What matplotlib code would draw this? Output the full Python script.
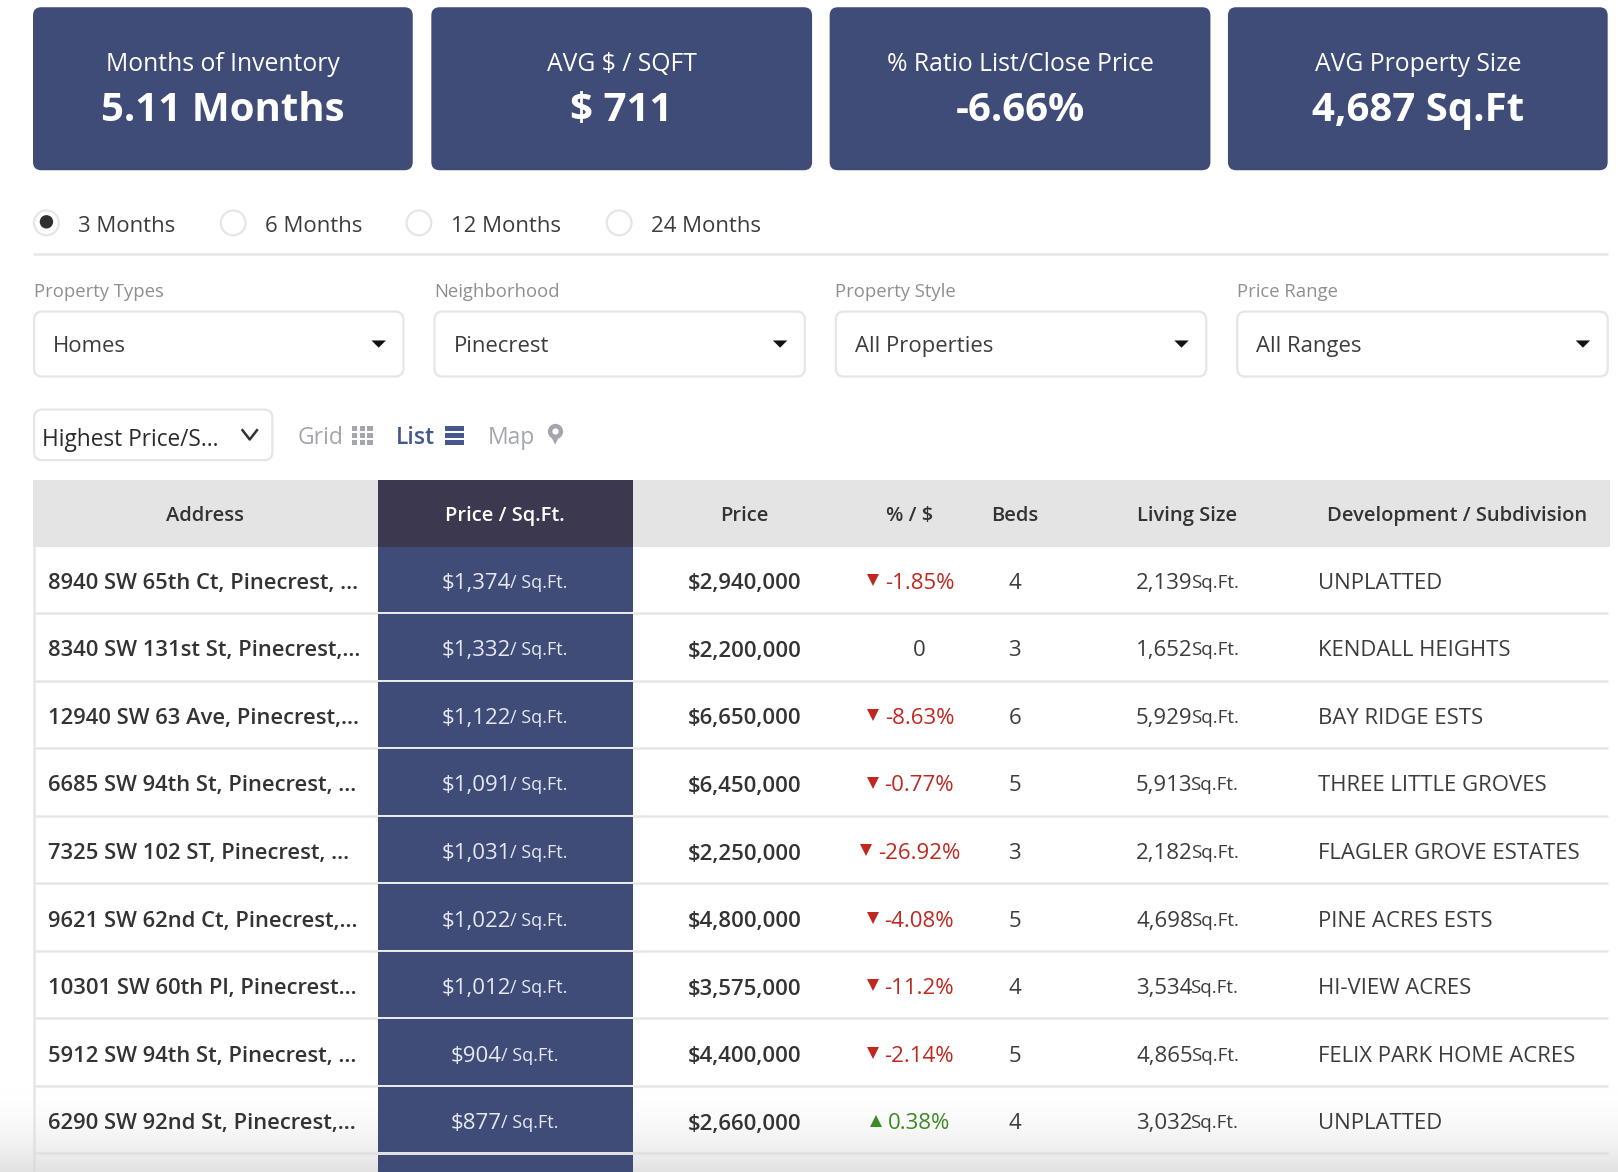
import matplotlib
matplotlib.use("Agg")
import matplotlib.pyplot as plt
from matplotlib.patches import FancyBboxPatch, Rectangle, Circle, Polygon
import numpy as np

plt.rcParams['font.family'] = ['Open Sans', 'DejaVu Sans']

NAVY = "#3f4c78"
DARK_HEAD = "#3b3850"
HEAD_BG = "#e4e4e4"
LINE = "#e6e6e6"
TEXT = "#3c3c3c"
GREY = "#8f8f8f"
RED = "#c0281f"
GREEN = "#3c8a22"
ICON = "#a3a6ad"
BLUE = "#46578f"

# summary cards
card_titles = ["Months of Inventory", "AVG $ / SQFT", "% Ratio List/Close Price", "AVG Property Size"]
card_values = ["5.11 Months", "$ 711", "-6.66%", "4,687 Sq.Ft"]

# filters
period_labels = ["3 Months", "6 Months", "12 Months", "24 Months"]
filter_labels = ["Property Types", "Neighborhood", "Property Style", "Price Range"]
filter_values = ["Homes", "Pinecrest", "All Properties", "All Ranges"]

# table
headers = ["Address", "Price / Sq.Ft.", "Price", "% / $", "Beds", "Living Size", "Development / Subdivision"]
addresses = ["8940 SW 65th Ct, Pinecrest, ...", "8340 SW 131st St, Pinecrest,...", "12940 SW 63 Ave, Pinecrest,...",
             "6685 SW 94th St, Pinecrest, ...", "7325 SW 102 ST, Pinecrest, ...", "9621 SW 62nd Ct, Pinecrest,...",
             "10301 SW 60th Pl, Pinecrest...", "5912 SW 94th St, Pinecrest, ...", "6290 SW 92nd St, Pinecrest,..."]
price_sqft = [1374, 1332, 1122, 1091, 1031, 1022, 1012, 904, 877]
prices = [2940000, 2200000, 6650000, 6450000, 2250000, 4800000, 3575000, 4400000, 2660000]
changes = [-1.85, 0, -8.63, -0.77, -26.92, -4.08, -11.2, -2.14, 0.38]
beds = [4, 3, 6, 5, 3, 5, 4, 5, 4]
living = [2139, 1652, 5929, 5913, 2182, 4698, 3534, 4865, 3032]
subdivisions = ["UNPLATTED", "KENDALL HEIGHTS", "BAY RIDGE ESTS", "THREE LITTLE GROVES", "FLAGLER GROVE ESTATES",
                "PINE ACRES ESTS", "HI-VIEW ACRES", "FELIX PARK HOME ACRES", "UNPLATTED"]

fig = plt.figure(figsize=(16.18, 11.72), dpi=100)
ax = fig.add_axes([0, 0, 1, 1])
ax.set_xlim(0, 1568)
ax.set_ylim(1136, 0)
ax.axis('off')
renderer = fig.canvas.get_renderer()


def rbox(x0, y0, x1, y1, r, fc, ec="none", lw=0, z=1):
    ax.add_patch(FancyBboxPatch((x0 + r, y0 + r), x1 - x0 - 2 * r, y1 - y0 - 2 * r,
                                boxstyle=f"round,pad={r},rounding_size={r}", fc=fc, ec=ec, lw=lw, zorder=z))


def width_of(t):
    bb = t.get_window_extent(renderer)
    return bb.width * 1568 / fig.bbox.width


def pair_text(xc, y, s1, s2, size1, size2, color, left=None, gap=0):
    # two sizes on one line, centred as a group unless left is given
    t1 = ax.text(0, y, s1, fontsize=size1, color=color, va='center', ha='left', zorder=5)
    t2 = ax.text(0, y - 0.5, s2, fontsize=size2, color=color, va='center', ha='left', zorder=5)
    w1, w2 = width_of(t1), width_of(t2)
    x0 = left if left is not None else xc - (w1 + w2) / 2
    t1.set_x(x0)
    t2.set_x(x0 + w1 + gap)


# cards
card_x = [(32, 400), (418, 787), (804, 1173), (1190, 1558)]
for (x0, x1), title, val in zip(card_x, card_titles, card_values):
    rbox(x0, 7, x1, 165, 8, NAVY)
    xc = (x0 + x1) / 2
    ax.text(xc, 63, title, color="white", fontsize=17.8, ha='center', va='center', zorder=5)
    ax.text(xc, 107, val, color="white", fontsize=29, fontweight='bold', ha='center', va='center', zorder=5)

# radio buttons
radio_x = [45, 226, 406, 600]
for i, (x, lab) in enumerate(zip(radio_x, period_labels)):
    ax.add_patch(Circle((x, 216), 12, fc="white", ec=LINE, lw=1.6, zorder=3))
    if i == 0:
        ax.add_patch(Circle((x, 215), 6.5, fc="#2f2f2f", ec="none", zorder=4))
    ax.text(x + 31, 220, lab, color=TEXT, fontsize=15.9, ha='left', va='center', zorder=5)
ax.plot([32, 1558], [246, 246], color=LINE, lw=1.8, solid_capstyle='butt', zorder=2)

# dropdowns
filter_x = [(33, 391), (421, 780), (810, 1169), (1199, 1558)]
for (x0, x1), lab, val in zip(filter_x, filter_labels, filter_values):
    ax.text(x0 - 0.5, 283.5, lab, color=GREY, fontsize=13.3, ha='left', va='center', zorder=5)
    rbox(x0, 302, x1, 365, 8, "white", ec=LINE, lw=1.6, z=2)
    ax.text(x0 + 18.5, 336, val, color=TEXT, fontsize=15.9, ha='left', va='center', zorder=5)
    ax.add_patch(Polygon([(x1 - 31, 330), (x1 - 17, 330), (x1 - 24, 337)], fc="#111111", ec="none", zorder=5))

# sort box and view switches
rbox(33, 397, 264, 446, 8, "white", ec=LINE, lw=1.6, z=2)
ax.text(41, 426, "Highest Price/S...", color="#2b2b2b", fontsize=16.3, ha='left', va='center', zorder=5)
ax.plot([235, 242, 249], [417, 426, 417], color="#333333", lw=1.8, zorder=5)

ax.text(288, 425, "Grid", color=ICON, fontsize=16.5, ha='left', va='center', zorder=5)
for gx in [343.5, 351, 358.5]:
    for gy in [415, 422, 429]:
        ax.add_patch(Rectangle((gx - 2.5, gy - 2.5), 5, 5, fc=ICON, ec="none", zorder=5))
ax.text(384, 425, "List", color=BLUE, fontsize=16.5, fontweight='semibold', ha='left', va='center', zorder=5)
for ly in [415, 422, 429]:
    ax.add_patch(Rectangle((431, ly - 2.5), 18.5, 5, fc=BLUE, ec="none", zorder=5))
ax.text(473, 425, "Map", color=ICON, fontsize=16.5, ha='left', va='center', zorder=5)
ax.plot([538], [418], marker='o', ms=11, color=ICON, mew=0, zorder=5)
ax.add_patch(Polygon([(532.5, 420), (543.5, 420), (538, 431)], fc=ICON, ec="none", zorder=5))
ax.plot([538], [418], marker='o', ms=4.5, color="white", mew=0, zorder=6)

# table header
head_top, head_bot = 465, 530
step = 65.45
col_price = (366, 613)
ax.add_patch(Rectangle((32, head_top), 1528, head_bot - head_top, fc=HEAD_BG, ec="none", zorder=1))
ax.add_patch(Rectangle((col_price[0], head_top), col_price[1] - col_price[0], head_bot - head_top, fc=DARK_HEAD, ec="none", zorder=2))
header_x = [199, 489, 721.5, 881, 983.5, 1150, 1412]
for i, (x, h) in enumerate(zip(header_x, headers)):
    ax.text(x, 500, h, color="white" if i == 1 else "#333333", fontsize=14.5, fontweight='semibold',
            ha='center', va='center', zorder=5)

# table rows
n = len(addresses)
table_bot = 1136
ax.plot([32.5, 32.5], [head_bot, table_bot], color=LINE, lw=1.8, zorder=2)
for i in range(n + 1):
    top = head_bot + i * step
    bot = top + step - 2
    ax.add_patch(Rectangle((col_price[0], top), col_price[1] - col_price[0], bot - top, fc=NAVY, ec="none", zorder=3))
    ax.plot([32, 1558], [bot + 1, bot + 1], color=LINE, lw=1.8, solid_capstyle='butt', zorder=2)

for i in range(n):
    y = head_bot + i * step + 35.5
    ax.text(47, y, addresses[i], color="#333333", fontsize=15.8, fontweight='semibold', ha='left', va='center', zorder=5)
    pair_text(489.5, y, f"${price_sqft[i]:,}", "/ Sq.Ft.", 16, 13, "#e6e8f0", gap=-1)
    ax.text(721.5, y + 0.5, f"${prices[i]:,}", color="#333333", fontsize=16, fontweight='semibold', ha='center', va='center', zorder=5)
    ch = changes[i]
    if ch == 0:
        ax.text(891, y, "0", color=TEXT, fontsize=16, ha='center', va='center', zorder=5)
    else:
        col = RED if ch < 0 else GREEN
        t = ax.text(0, y, f"{ch:g}%", color=col, fontsize=16, ha='left', va='center', zorder=5)
        w = width_of(t)
        x0 = 881 - (w + 14) / 2
        t.set_x(x0 + 17)
        ax.plot([x0 + 5.5], [y - 3], marker='v' if ch < 0 else '^', ms=8, color=col, mew=0, zorder=5)
    ax.text(983.5, y, str(beds[i]), color=TEXT, fontsize=16, ha='center', va='center', zorder=5)
    pair_text(0, y, f"{living[i]:,}", "Sq.Ft.", 16, 13.5, TEXT, left=1101, gap=-2)
    ax.text(1277.5, y, subdivisions[i], color=TEXT, fontsize=15.9, ha='left', va='center', zorder=5)

# fade at the bottom of the page, behind the navy column
fade = np.ones((100, 1, 4))
fade[:, :, :3] = 0.85
fade[:, 0, 3] = np.linspace(0, 1, 100) ** 2 * 0.75
ax.imshow(fade, extent=(0, 1568, 1136, 1050), aspect='auto', zorder=2.5)
ax.set_xlim(0, 1568)
ax.set_ylim(1136, 0)

fig.savefig("out.png", dpi=100)
plt.close(fig)
